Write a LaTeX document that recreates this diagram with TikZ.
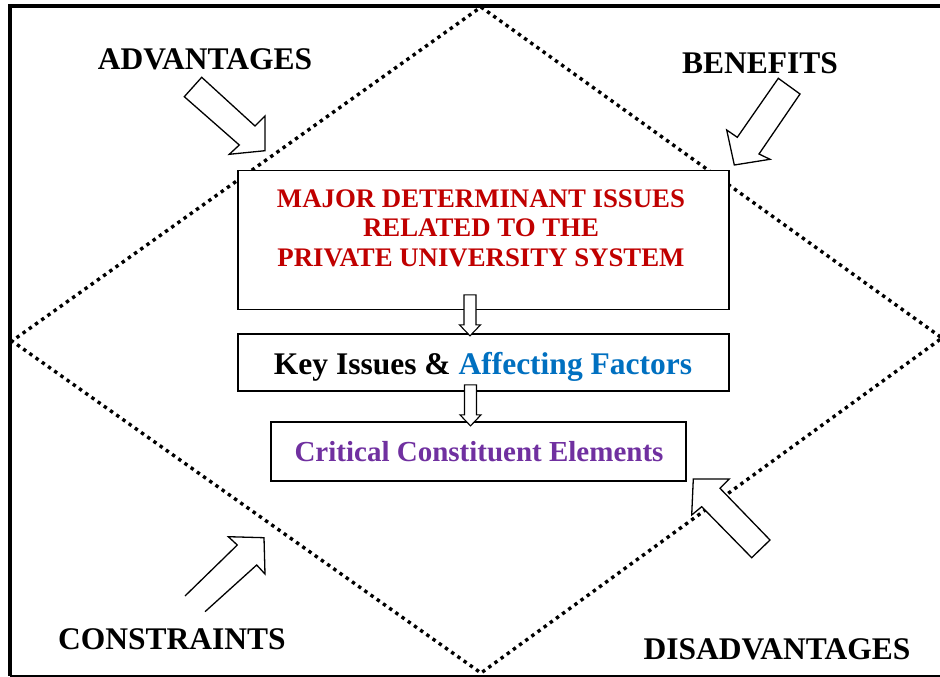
\documentclass[tikz,border=0pt]{standalone}
\usepackage{fontspec}
\setmainfont{Liberation Serif}
\usetikzlibrary{calc}
\definecolor{dred}{HTML}{C00000}
\definecolor{dblue}{HTML}{0070C0}
\definecolor{dpurple}{HTML}{7030A0}
\begin{document}
\begin{tikzpicture}[x=1pt,y=-1pt,
  lbl/.style={font=\bfseries\fontsize{31.5}{36}\selectfont, anchor=base, inner sep=0pt},
  box/.style={draw, line width=1.3pt, fill=white, inner sep=0pt},
  blockarrow/.style={draw, line width=1.3pt, fill=white, line join=miter},
  smallarrow/.style={draw, line width=1.1pt, fill=white, line join=miter},
  dotline/.style={line width=3.4pt, dash pattern=on 3.4pt off 4.2pt},
  frameline/.style={line width=4pt}]
\useasboundingbox (0,0) rectangle (940,677);

% dotted diamond
\coordinate (dt) at (481,7);
\coordinate (dr) at (942,338);
\coordinate (db) at (481,673);
\coordinate (dl) at (12,341);
\draw[dotline] (dt) -- (dr) -- (db) -- (dl) -- cycle;

% frame
\coordinate (ftl) at (10,6);
\coordinate (ftr) at (940,6);
\coordinate (fbl) at (10,676);
\coordinate (fbr) at (940,676);
\draw[line width=3.5pt] ($(ftl)+(-2,0)$) -- (ftr);
\draw[frameline] (ftl) -- (fbl);
\draw[line width=1.5pt] (fbl) -- (fbr);

% boxes
\node[box, minimum width=491pt, minimum height=139pt] (b1) at (483.5,240) {};
\node[box, minimum width=491pt, minimum height=57pt] (b2) at (483.5,362.5) {};
\node[box, minimum width=415pt, minimum height=59pt] (b3) at (478.5,451.5) {};

\node[align=center, text=dred, inner sep=0pt,
      font=\bfseries\fontsize{26.8}{29.5}\selectfont] (t1) at (481,228)
  {MAJOR DETERMINANT ISSUES\\RELATED TO THE\\PRIVATE UNIVERSITY SYSTEM};
\node[anchor=base, inner sep=0pt, font=\bfseries\fontsize{31.5}{36}\selectfont] (t2) at (483,374)
  {Key Issues \& \textcolor{dblue}{Affecting Factors}};
\node[anchor=base, inner sep=0pt, text=dpurple, font=\bfseries\fontsize{29}{34}\selectfont] (t3) at (479,461)
  {Critical Constituent Elements};

% small block arrows between boxes
\coordinate (a1) at ($(b2.north)+(-13.5,2.5)$);
\coordinate (a2) at ($(b3.north)+(-8,4.5)$);
\foreach \t in {a1,a2}{
  \draw[smallarrow] ($(\t)+(-6,-41)$) -- ($(\t)+(6,-41)$) -- ($(\t)+(6,-11)$)
    -- ($(\t)+(10.5,-11)$) -- (\t) -- ($(\t)+(-10.5,-11)$) -- ($(\t)+(-6,-11)$) -- cycle;
}

% large block arrows
\draw[blockarrow] (184.3,96.7) -- (201.7,77.3) -- (255,126) -- (265,116) -- (265,150.7)
  -- (229.3,154.3) -- (239.3,145) -- cycle;
\draw[blockarrow] (778.3,78.3) -- (800,94) -- (759,154) -- (770,159.3) -- (734.3,165)
  -- (726.7,130) -- (737.3,137.3) -- cycle;
\draw[blockarrow] (185,596) -- (237.3,545) -- (228.3,536.7) -- (264,537.7) -- (265,574)
  -- (256.7,565) -- (205,611.7);
\draw[blockarrow] (693.3,479) -- (729.3,479) -- (720,488.3) -- (770,540) -- (751.7,557.7)
  -- (701.7,506.7) -- (691.7,515) -- cycle;

% labels
\node[lbl] (lA) at (205,70) {ADVANTAGES};
\node[lbl] (lB) at (760,74) {BENEFITS};
\node[lbl] (lC) at (172,649) {CONSTRAINTS};
\node[lbl] (lD) at (777,659) {DISADVANTAGES};
\end{tikzpicture}
\end{document}
